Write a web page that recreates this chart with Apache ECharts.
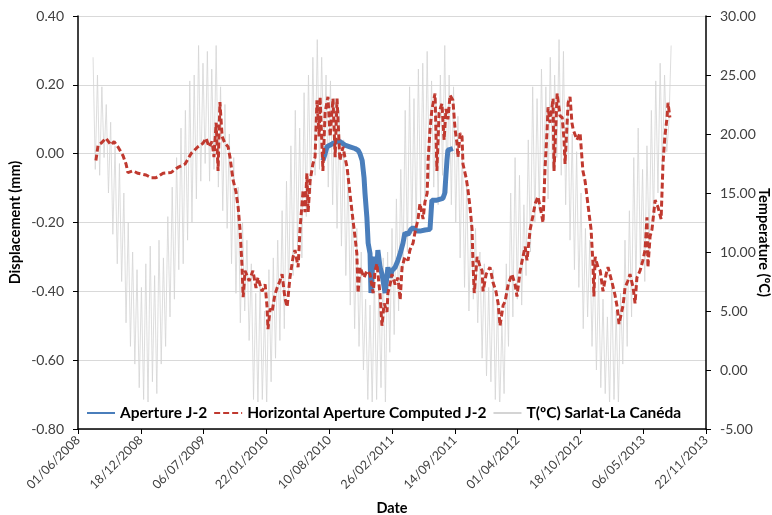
<!DOCTYPE html>
<html><head><meta charset="utf-8">
<script src="https://cdn.jsdelivr.net/npm/echarts@6/dist/echarts.min.js"></script>
<style>html,body{margin:0;padding:0;background:#fff}#c{width:772px;height:515px}</style>
</head><body><div id="c"></div>
<script>
// Dates are Excel-style day serials (01/06/2008 = 39600)
const xMin = 39600, xMax = 41600, xStep = 200;
const leftMin = -0.8, leftMax = 0.4, leftStep = 0.2;
const rightMin = -5, rightMax = 30, rightStep = 5;

const seriesNames = ['Aperture J-2', 'Horizontal Aperture Computed J-2', 'T(ºC) Sarlat-La Canéda'];

// Aperture J-2 (measured) [date serial, mm]
const apertureJ2 = [
 [40380,-0.02],[40387,0.0],[40393,0.02],[40403,0.025],[40412,0.03],[40425,0.035],[40434,0.035],[40450,0.025],
 [40466,0.02],[40482,0.015],[40492,0.01],[40498,0.0],[40505,-0.02],[40511,-0.07],[40514,-0.115],[40520,-0.185],
 [40524,-0.26],[40530,-0.29],[40533,-0.405],[40540,-0.30],[40546,-0.32],[40552,-0.33],[40555,-0.28],[40562,-0.33],
 [40568,-0.35],[40578,-0.405],[40587,-0.33],[40594,-0.36],[40600,-0.34],[40610,-0.33],[40619,-0.31],[40626,-0.29],
 [40635,-0.26],[40641,-0.23],[40651,-0.235],[40660,-0.22],[40667,-0.215],[40680,-0.225],[40689,-0.225],[40705,-0.222],
 [40721,-0.22],[40727,-0.135],[40743,-0.135],[40762,-0.13],[40768,-0.115],[40772,-0.06],[40775,-0.02],[40778,0.01],[40794,0.015]
];

// Horizontal Aperture Computed J-2 [date serial, mm]
const computedJ2 = [
 [39657,-0.02],[39664,0.025],[39673,0.03],[39689,0.045],[39705,0.025],[39715,0.035],[39727,0.02],[39743,-0.005],
 [39753,-0.03],[39759,-0.055],[39775,-0.05],[39791,-0.057],[39817,-0.062],[39833,-0.07],[39848,-0.07],[39871,-0.057],
 [39896,-0.055],[39918,-0.04],[39941,-0.03],[39960,0.0],[39982,0.02],[39998,0.03],[40008,0.045],[40017,0.02],
 [40027,0.035],[40033,-0.01],[40040,0.09],[40046,-0.05],[40052,0.15],[40059,0.05],[40068,0.03],[40078,0.02],
 [40084,-0.01],[40094,-0.077],[40103,-0.11],[40110,-0.155],[40116,-0.22],[40122,-0.32],[40126,-0.417],[40132,-0.34],
 [40145,-0.37],[40157,-0.34],[40167,-0.39],[40173,-0.36],[40186,-0.40],[40196,-0.38],[40202,-0.445],[40205,-0.51],
 [40212,-0.45],[40218,-0.46],[40227,-0.41],[40234,-0.39],[40243,-0.37],[40250,-0.35],[40259,-0.42],[40266,-0.445],
 [40275,-0.36],[40285,-0.30],[40291,-0.28],[40301,-0.33],[40307,-0.22],[40317,-0.105],[40323,-0.17],[40329,-0.057],
 [40333,-0.17],[40339,-0.08],[40348,-0.03],[40355,-0.01],[40361,0.155],[40368,0.05],[40371,0.165],[40380,-0.05],
 [40387,0.12],[40396,0.165],[40403,0.05],[40412,0.16],[40419,-0.01],[40425,0.16],[40434,-0.02],[40444,0.02],
 [40450,-0.01],[40457,-0.04],[40466,-0.115],[40476,-0.195],[40482,-0.24],[40488,-0.29],[40492,-0.405],[40498,-0.33],
 [40511,-0.36],[40520,-0.34],[40530,-0.35],[40540,-0.405],[40546,-0.34],[40552,-0.32],[40562,-0.41],[40568,-0.50],
 [40575,-0.435],[40584,-0.46],[40587,-0.405],[40594,-0.38],[40600,-0.35],[40610,-0.38],[40619,-0.36],[40626,-0.425],
 [40632,-0.33],[40641,-0.30],[40651,-0.31],[40657,-0.28],[40667,-0.26],[40673,-0.23],[40683,-0.19],[40689,-0.145],
 [40699,-0.19],[40705,-0.14],[40712,-0.115],[40715,-0.02],[40721,0.07],[40727,0.127],[40737,0.175],[40743,-0.05],
 [40750,0.12],[40759,0.145],[40766,0.04],[40772,0.13],[40778,0.10],[40785,0.17],[40794,0.155],[40801,0.07],
 [40807,0.03],[40810,-0.01],[40817,0.06],[40823,0.05],[40826,-0.03],[40836,-0.07],[40842,-0.105],[40849,-0.16],
 [40855,-0.22],[40858,-0.32],[40862,-0.405],[40871,-0.30],[40881,-0.33],[40887,-0.34],[40890,-0.40],[40900,-0.35],
 [40912,-0.33],[40922,-0.375],[40931,-0.40],[40938,-0.435],[40944,-0.50],[40954,-0.44],[40960,-0.43],[40970,-0.38],
 [40982,-0.35],[40992,-0.38],[40998,-0.415],[41008,-0.34],[41017,-0.30],[41024,-0.27],[41030,-0.31],[41040,-0.22],
 [41049,-0.18],[41056,-0.145],[41065,-0.125],[41075,-0.17],[41081,-0.20],[41087,-0.05],[41094,0.07],[41097,0.135],
 [41103,0.09],[41113,0.16],[41116,-0.05],[41126,0.175],[41135,0.11],[41142,0.105],[41148,0.04],[41151,-0.03],
 [41161,0.148],[41167,0.165],[41173,0.09],[41177,0.07],[41189,0.04],[41199,0.06],[41208,-0.05],[41215,-0.08],
 [41221,-0.125],[41227,-0.17],[41234,-0.22],[41240,-0.32],[41243,-0.415],[41247,-0.30],[41256,-0.33],[41263,-0.34],
 [41272,-0.40],[41282,-0.35],[41288,-0.33],[41301,-0.375],[41310,-0.41],[41317,-0.445],[41323,-0.495],[41336,-0.44],
 [41342,-0.39],[41351,-0.37],[41358,-0.35],[41368,-0.39],[41374,-0.435],[41380,-0.36],[41390,-0.34],[41399,-0.31],
 [41406,-0.28],[41412,-0.185],[41415,-0.33],[41422,-0.24],[41428,-0.22],[41438,-0.135],[41447,-0.155],[41457,-0.19],
 [41460,-0.19],[41463,-0.03],[41469,0.05],[41476,0.105],[41479,0.148],[41485,0.105]
];

// Weekly temperature readings (ºC), first reading on 19/07/2008, one every 7 days
const tempStart = 39648, tempStepDays = 7;
const temp2008 = [26.5,17.0, 25.0,16.5,24.0,18.0,22.5, 15.0,21.0,11.5,19.0, 9.0,17.5,7.5,15.0, 4.0,12.5,2.0,10.0,0.5, 8.5,-1.5,7.0,-2.5];
const temp2009 = [9.0,-3.0,10.5,-1.0,8.0, -2.0,11.0,0.5,9.5, 2.0,13.0,4.5,15.5, 6.0,18.0,8.5,20.5,9.0, 22.0,11.0,24.5,12.5, 25.0,14.5,27.5,16.0, 26.0,17.5,27.0,16.0,25.5, 17.0,27.5,15.5,24.0, 13.5,22.5,12.0,20.0, 9.0,18.0,6.5,15.5,4.0, 12.5,5.0,11.0,2.5, 9.0,-2.5,6.5,-3.0];
const temp2010 = [7.5,-2.5,5.0,-3.0,8.5, -1.0,9.5,1.0,11.0, 2.5,13.5,3.5,16.0, 6.5,19.0,8.0,22.0,10.5, 20.5,9.5,23.5,13.0, 25.0,15.0,26.5,16.5, 28.0,17.0,26.5,18.5,25.0, 15.5,24.5,14.0,23.0, 12.0,22.0,10.5,19.5, 8.0,17.0,5.5,14.0,3.5, 12.0,2.0,10.0,0.0, 6.0,-2.5,5.5,-3.0];
const temp2011 = [8.0,-2.5,7.0,-1.5,9.5, -3.0,10.0,1.5,12.0, 3.0,14.5,5.0,17.0, 8.5,22.0,10.0,24.0,11.5, 23.0,12.0,25.5,14.0, 26.0,14.5,27.0,16.0, 24.5,15.5,23.0,14.0,25.0, 16.5,27.5,15.0,25.0, 14.0,24.0,12.5,21.5, 9.5,19.0,7.0,16.0,5.0, 13.0,6.0,12.0,4.0, 10.0,1.0,9.0,-0.5];
const temp2012 = [7.0,-1.0,8.5,-2.5,6.0, -3.5,4.0,-2.0,9.0, 2.0,15.0,4.5,18.0, 6.0,16.5,5.5,14.0,8.0, 19.5,10.0,24.0,12.5, 23.0,13.5,25.5,16.0, 24.0,14.5,26.5,17.0,25.0, 18.0,28.0,16.5,27.0, 14.0,23.0,11.0,20.0, 8.5,18.5,7.0,15.0,3.5, 12.0,4.5,11.0,2.0, 9.5,0.0,8.0,-1.5];
const temp2013 = [6.0,-2.0,4.5,-3.0,7.5, -2.5,5.0,-3.0,6.5, 0.5,11.0,2.0,13.5, 4.5,18.0,7.0,20.5,9.0, 17.0,7.5,19.0,10.0, 22.0,12.5,24.5,15.0, 26.0,17.0,25.0,18.5,21.0, 27.5];
const tempValues = [].concat(temp2008, temp2009, temp2010, temp2011, temp2012, temp2013);

function pad(n){ return (n < 10 ? '0' : '') + n; }
function fmtDate(s){
  const d = new Date(Date.UTC(1899, 11, 30) + Math.round(s) * 86400000);
  return pad(d.getUTCDate()) + '/' + pad(d.getUTCMonth() + 1) + '/' + d.getUTCFullYear();
}

const tempData = tempValues.map((v, i) => [tempStart + i * tempStepDays, v]);

const chart = echarts.init(document.getElementById('c'), null, {renderer: 'canvas'});
const FONT = 'Lato, "Open Sans", sans-serif';
chart.setOption({
  animation: false,
  backgroundColor: '#fff',
  textStyle: {fontFamily: FONT},
  grid: {left: 78, right: 66, top: 16, bottom: 86, containLabel: false, outerBoundsMode: 'none'},
  legend: {
    data: seriesNames,
    left: 84, top: 402,
    itemWidth: 28, itemHeight: 12, itemGap: 6,
    backgroundColor: '#fff',
    padding: [3, 4, 3, 2],
    itemStyle: {opacity: 0},
    textStyle: {fontFamily: FONT, fontSize: 15.5, fontWeight: 'bold', color: '#000'}
  },
  xAxis: {
    type: 'value', min: xMin, max: xMax, interval: xStep,
    name: 'Date', nameLocation: 'middle', nameGap: 72, nameMoveOverlap: false,
    nameTextStyle: {fontFamily: FONT, fontSize: 14.5, fontWeight: 'bold', color: '#000'},
    axisLine: {onZero: false, lineStyle: {color: '#000', width: 1.5}},
    axisTick: {show: true, length: 5, lineStyle: {color: '#000'}},
    axisLabel: {rotate: 45, fontSize: 12.5, color: '#404040', margin: 9, formatter: fmtDate, fontFamily: FONT},
    splitLine: {show: false}
  },
  yAxis: [{
    type: 'value', min: leftMin, max: leftMax, interval: leftStep, position: 'left',
    name: 'Displacement (mm)', nameLocation: 'middle', nameGap: 55, nameMoveOverlap: false,
    nameTextStyle: {fontFamily: FONT, fontSize: 14.5, fontWeight: 'bold', color: '#000'},
    axisLine: {show: true, onZero: false, lineStyle: {color: '#000', width: 1.5}},
    axisTick: {show: true, length: 5, lineStyle: {color: '#000'}},
    axisLabel: {fontSize: 14, color: '#404040', margin: 14, formatter: v => v.toFixed(2), fontFamily: FONT},
    splitLine: {show: true, lineStyle: {color: '#d9d9d9', width: 1}}
  }, {
    type: 'value', min: rightMin, max: rightMax, interval: rightStep, position: 'right',
    name: 'Temperature (ºC)', nameLocation: 'middle', nameGap: 50, nameRotate: -90, nameMoveOverlap: false,
    nameTextStyle: {fontFamily: FONT, fontSize: 14.5, fontWeight: 'bold', color: '#000', padding: [0, 0, 0, 40]},
    axisLine: {show: true, onZero: false, lineStyle: {color: '#000', width: 1.5}},
    axisTick: {show: true, length: 5, lineStyle: {color: '#000'}},
    axisLabel: {fontSize: 14, color: '#404040', margin: 14, formatter: v => v.toFixed(2), fontFamily: FONT},
    splitLine: {show: false}
  }],
  series: [{
    name: seriesNames[0], type: 'line', yAxisIndex: 0, z: 3,
    data: apertureJ2, symbol: 'none', showSymbol: false,
    lineStyle: {color: '#4a7ebb', width: 5}, itemStyle: {color: '#4a7ebb'}
  }, {
    name: seriesNames[1], type: 'line', yAxisIndex: 0, z: 4,
    data: computedJ2, symbol: 'none', showSymbol: false,
    lineStyle: {color: '#c0392f', width: 3, type: [6, 3]}, itemStyle: {color: '#c0392f'}
  }, {
    name: seriesNames[2], type: 'line', yAxisIndex: 1, z: 2,
    data: tempData, symbol: 'none', showSymbol: false,
    lineStyle: {color: '#d4d4d4', width: 0.8}, itemStyle: {color: '#d4d4d4'}
  }]
});
</script></body></html>
